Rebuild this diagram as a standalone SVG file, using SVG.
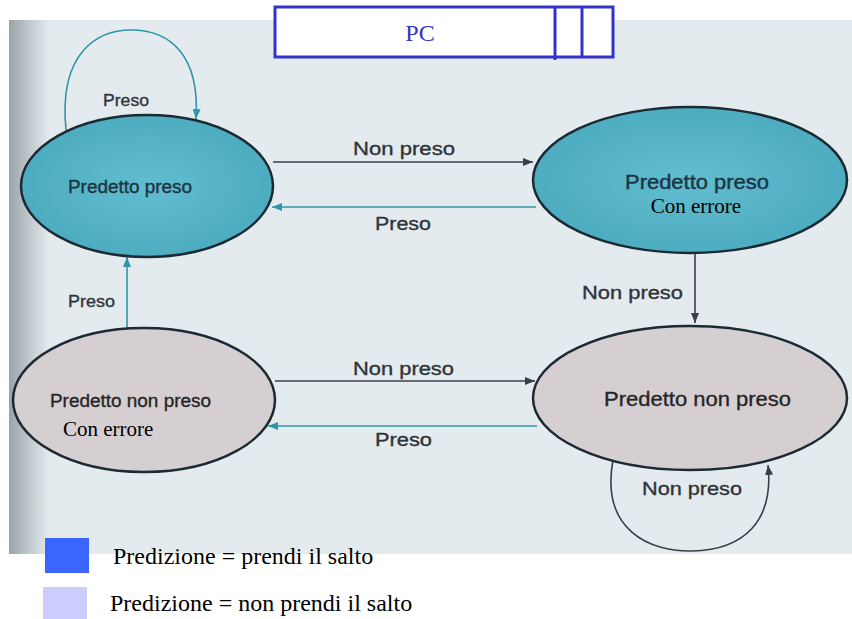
<svg xmlns="http://www.w3.org/2000/svg" width="852" height="619" viewBox="0 0 852 619">
<defs>
<linearGradient id="shade" x1="0" y1="0" x2="1" y2="0">
<stop offset="0" stop-color="#9aa4a8" stop-opacity="1"/>
<stop offset="1" stop-color="#9aa4a8" stop-opacity="0"/>
</linearGradient>
<radialGradient id="teal" cx="0.5" cy="0.5" r="0.6">
<stop offset="0" stop-color="#62bdd0"/>
<stop offset="1" stop-color="#4aa9bd"/>
</radialGradient>
<marker id="arrT" viewBox="0 0 10 8" refX="10" refY="4" markerWidth="10" markerHeight="8" markerUnits="userSpaceOnUse" orient="auto">
<path d="M0 0 L10 4 L0 8 Z" fill="#2f95a8"/>
</marker>
<marker id="arrD" viewBox="0 0 10 8" refX="10" refY="4" markerWidth="10" markerHeight="8" markerUnits="userSpaceOnUse" orient="auto">
<path d="M0 0 L10 4 L0 8 Z" fill="#3a4047"/>
</marker>
</defs>
<style>
.bg{fill:#e3ebee}
.nodeT{fill:url(#teal);stroke:#1c2a33;stroke-width:2.5}
.nodeG{fill:#d6cfd2;stroke:#1c2a33;stroke-width:2.5}
.title{font-family:"Liberation Sans",Arial,sans-serif;fill:#1c3542;stroke:#1c3542;stroke-width:0.4}
.titleG{font-family:"Liberation Sans",Arial,sans-serif;fill:#262626;stroke:#262626;stroke-width:0.35}
.serif{font-family:"Liberation Serif","Times New Roman",serif;fill:#000}
.lbl{font-family:"Liberation Sans",Arial,sans-serif;fill:#30343a;stroke:#30343a;stroke-width:0.35}
.cT{fill:none;stroke:#2f95a8;stroke-width:1.6;marker-end:url(#arrT)}
.cD{fill:none;stroke:#3a4047;stroke-width:1.6;marker-end:url(#arrD)}
</style>
<rect x="9" y="20" width="843" height="534" class="bg"/>
<rect x="9" y="20" width="40" height="534" fill="url(#shade)"/>

<g id="pc">
<rect x="275" y="7" width="338" height="50" fill="#fff" stroke="#3333cc" stroke-width="3"/>
<line x1="555" y1="7" x2="555" y2="60" stroke="#3333cc" stroke-width="3"/>
<line x1="582" y1="7" x2="582" y2="57" stroke="#3333cc" stroke-width="3"/>
<text x="420" y="41" text-anchor="middle" font-family="Liberation Serif, Times New Roman, serif" font-size="24" fill="#3333cc">PC</text>
</g>

<g id="connectors">
<path class="cT" d="M 66 130 C 58 50, 100 30, 131 30 C 170 30, 200 55, 196 119"/>
<line class="cD" x1="273" y1="162" x2="533" y2="162"/>
<line class="cT" x1="536" y1="207" x2="272" y2="207"/>
<line class="cD" x1="695" y1="253" x2="695" y2="323"/>
<line class="cT" x1="127" y1="329" x2="127" y2="257"/>
<line class="cD" x1="275" y1="381" x2="535" y2="381"/>
<line class="cT" x1="537" y1="426" x2="268" y2="426"/>
<path class="cD" d="M 613 460 C 600 530, 650 552, 692 551 C 745 550, 774 520, 768 465"/>
<text class="lbl" x="103" y="106" font-size="17" textLength="46" lengthAdjust="spacingAndGlyphs">Preso</text>
<text class="lbl" x="353" y="155" font-size="18" textLength="102" lengthAdjust="spacingAndGlyphs">Non preso</text>
<text class="lbl" x="375" y="230" font-size="18" textLength="56" lengthAdjust="spacingAndGlyphs">Preso</text>
<text class="lbl" x="582" y="299" font-size="18" textLength="101" lengthAdjust="spacingAndGlyphs">Non preso</text>
<text class="lbl" x="68" y="307" font-size="17" textLength="47" lengthAdjust="spacingAndGlyphs">Preso</text>
<text class="lbl" x="353" y="375" font-size="18" textLength="101" lengthAdjust="spacingAndGlyphs">Non preso</text>
<text class="lbl" x="375" y="446" font-size="18" textLength="57" lengthAdjust="spacingAndGlyphs">Preso</text>
<text class="lbl" x="642" y="495" font-size="18" textLength="100" lengthAdjust="spacingAndGlyphs">Non preso</text>
</g>

<g id="node-tl">
<ellipse cx="147" cy="186" rx="126" ry="71" class="nodeT"/>
<text class="title" x="68" y="193" font-size="18" textLength="124" lengthAdjust="spacingAndGlyphs">Predetto preso</text>
</g>

<g id="node-tr">
<ellipse cx="690" cy="180" rx="157" ry="73" class="nodeT"/>
<text class="title" x="625" y="189" font-size="20" textLength="144" lengthAdjust="spacingAndGlyphs">Predetto preso</text>
<text class="serif" x="696" y="213" font-size="21" text-anchor="middle">Con errore</text>
</g>

<g id="node-bl">
<ellipse cx="144" cy="400" rx="131" ry="72" class="nodeG"/>
<text class="titleG" x="50" y="407" font-size="18" textLength="161" lengthAdjust="spacingAndGlyphs">Predetto non preso</text>
<text class="serif" x="63" y="436" font-size="21">Con errore</text>
</g>

<g id="node-br">
<ellipse cx="690" cy="398" rx="157" ry="72" class="nodeG"/>
<text class="titleG" x="604" y="406" font-size="21" textLength="187" lengthAdjust="spacingAndGlyphs">Predetto non preso</text>
</g>

<g id="legend">
<rect x="45" y="538" width="44" height="35" fill="#3a66ff"/>
<text class="serif" x="113" y="564" font-size="24">Predizione = prendi il salto</text>
<rect x="43" y="587" width="44" height="32" fill="#ccccff"/>
<text class="serif" x="110" y="611" font-size="24">Predizione = non prendi il salto</text>
</g>
</svg>
